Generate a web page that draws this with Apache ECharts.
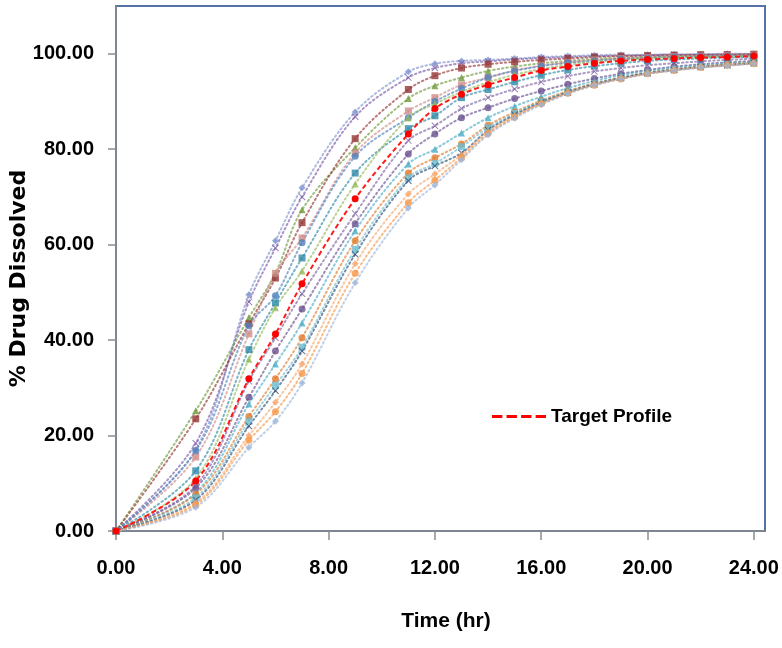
<!DOCTYPE html>
<html>
<head>
<meta charset="utf-8">
<script src="https://cdn.jsdelivr.net/npm/echarts@6/dist/echarts.min.js"></script>
<style>html,body{margin:0;padding:0;background:#fff;}#chart{width:782px;height:648px;}</style>
</head>
<body>
<div id="chart"></div>
<script>
// ---- data ----
const times = [0, 3, 5, 6, 7, 9, 11, 12, 13, 14, 15, 16, 17, 18, 19, 20, 21, 22, 23, 24];
const xTicks = [0, 4, 8, 12, 16, 20, 24];
const yTicks = [0, 20, 40, 60, 80, 100];
const targetName = 'Target Profile';
const target = [0, 10.5, 31.9, 41.3, 51.8, 69.6, 83.2, 88.5, 91.5, 93.5, 95.0, 96.5, 97.3, 98.0, 98.5, 98.8, 99.0, 99.2, 99.3, 99.5];
const f01 = [0, 17.0, 49.5, 60.8, 71.9, 87.8, 96.2, 97.9, 98.5, 98.7, 99.0, 99.3, 99.5, 99.7, 99.8, 99.8, 99.9, 99.9, 100.0, 100.0];
const f02 = [0, 18.4, 48.0, 59.3, 70.0, 86.8, 95.0, 97.0, 98.0, 98.4, 98.8, 99.1, 99.3, 99.5, 99.6, 99.7, 99.8, 99.8, 99.9, 99.9];
const f03 = [0, 25.2, 44.7, 54.0, 67.3, 80.3, 90.6, 93.3, 95.0, 96.4, 97.3, 98.0, 98.5, 98.9, 99.1, 99.3, 99.4, 99.5, 99.6, 99.7];
const f04 = [0, 23.5, 43.4, 53.0, 64.6, 82.2, 92.5, 95.4, 97.0, 97.8, 98.3, 98.7, 99.0, 99.3, 99.5, 99.6, 99.7, 99.8, 99.8, 99.9];
const f05 = [0, 15.5, 41.3, 54.0, 61.4, 79.2, 88.0, 90.8, 93.5, 95.0, 96.5, 97.5, 98.2, 98.7, 99.0, 99.2, 99.4, 99.5, 99.6, 99.7];
const f06 = [0, 16.8, 43.0, 49.3, 60.4, 78.5, 86.6, 90.0, 92.7, 95.0, 96.4, 97.4, 98.1, 98.5, 98.9, 99.1, 99.3, 99.4, 99.5, 99.6];
const f07 = [0, 12.6, 38.0, 47.8, 57.2, 75.0, 84.3, 87.0, 90.8, 92.5, 94.1, 95.5, 96.6, 97.4, 98.0, 98.5, 98.8, 99.0, 99.2, 99.3];
const f08 = [0, 11.0, 36.0, 46.8, 54.5, 72.7, 86.6, 89.5, 92.0, 94.0, 95.6, 96.8, 97.7, 98.3, 98.7, 99.0, 99.2, 99.3, 99.4, 99.5];
const f09 = [0, 9.5, 31.4, 40.5, 49.7, 66.5, 81.8, 84.9, 88.5, 90.8, 92.6, 94.1, 95.3, 96.3, 97.0, 97.6, 98.0, 98.4, 98.7, 99.0];
const f10 = [0, 9.0, 28.0, 37.7, 46.5, 64.4, 79.0, 83.2, 86.6, 88.7, 90.6, 92.2, 93.6, 94.8, 95.8, 96.6, 97.3, 97.8, 98.2, 98.5];
const f11 = [0, 8.0, 26.6, 35.0, 43.6, 62.9, 76.9, 80.0, 83.4, 86.6, 89.0, 91.0, 92.8, 94.3, 95.5, 96.4, 97.1, 97.6, 98.0, 98.3];
const f12 = [0, 7.7, 24.0, 31.9, 40.5, 60.8, 75.0, 78.2, 81.1, 85.0, 87.8, 90.2, 92.2, 93.8, 95.0, 96.0, 96.8, 97.3, 97.8, 98.1];
const f13 = [0, 7.0, 23.0, 30.5, 38.5, 59.0, 74.0, 77.0, 80.5, 84.5, 87.5, 90.0, 92.0, 93.7, 95.0, 96.0, 96.7, 97.3, 97.7, 98.1];
const f14 = [0, 6.5, 22.0, 29.4, 37.7, 58.0, 73.4, 76.5, 79.2, 84.0, 87.2, 89.8, 91.9, 93.6, 94.9, 95.9, 96.6, 97.2, 97.6, 98.0];
const f15 = [0, 5.9, 20.0, 27.0, 35.0, 56.0, 70.6, 74.8, 78.8, 83.6, 86.9, 89.6, 91.8, 93.5, 94.8, 95.8, 96.6, 97.2, 97.6, 98.0];
const f16 = [0, 5.5, 19.0, 25.0, 33.0, 54.0, 68.8, 73.5, 78.2, 83.3, 86.7, 89.5, 91.7, 93.4, 94.7, 95.8, 96.5, 97.1, 97.6, 97.9];
const f17 = [0, 5.0, 17.5, 23.0, 31.0, 52.0, 67.7, 72.5, 77.8, 83.0, 86.5, 89.3, 91.6, 93.4, 94.7, 95.8, 96.5, 97.1, 97.5, 97.9];
const formulations = [f01, f02, f03, f04, f05, f06, f07, f08, f09, f10, f11, f12, f13, f14, f15, f16, f17];

// ---- styles ----
const X = 'path://M1,0L5,4L9,0L10,1L6,5L10,9L9,10L5,6L1,10L0,9L4,5L0,1Z';
const styles = [
  ['#7F93CF', 'diamond'], ['#7A5CA8', X], ['#6E9A3A', 'triangle'], ['#943634', 'rect'],
  ['#D08C8A', 'rect'], ['#4F81BD', 'circle'], ['#2F8AA6', 'rect'], ['#93B957', 'triangle'],
  ['#8064A2', X], ['#6A5290', 'circle'], ['#4BACC6', 'triangle'], ['#E07B2A', 'circle'],
  ['#6FBDD1', 'rect'], ['#2C4D75', X], ['#F5A86E', 'diamond'], ['#F79646', 'circle'],
  ['#9DB5DA', 'diamond']
];
const tickFont = '"Liberation Sans", Arial, sans-serif';

const pairs = arr => times.map((t, i) => [t, arr[i]]);

const series = formulations.map((arr, i) => ({
  name: 'F' + (i + 1),
  type: 'line',
  data: pairs(arr),
  smooth: 0.35,
  symbol: styles[i][1],
  symbolSize: 7,
  lineStyle: { color: styles[i][0], width: 2, type: [1.5, 3], cap: 'round', opacity: 0.65 },
  itemStyle: { color: styles[i][0], opacity: 0.8 },
  emphasis: { disabled: true },
  z: 2
}));
series.push({
  name: targetName,
  type: 'line',
  data: pairs(target),
  smooth: 0.35,
  symbol: 'circle',
  symbolSize: 7,
  lineStyle: { color: '#FF1A1A', width: 2, type: [5, 3] },
  itemStyle: { color: '#FF0000' },
  emphasis: { disabled: true },
  z: 5
});

const chart = echarts.init(document.getElementById('chart'), null, { renderer: 'canvas' });
chart.setOption({
  animation: false,
  backgroundColor: '#fff',
  grid: { left: 116, right: 17, top: 6, bottom: 117, outerBoundsMode: 'none', containLabel: false, show: true, borderColor: '#5573A6', borderWidth: 2, backgroundColor: 'transparent' },
  legend: {
    data: [{ name: targetName, icon: 'path://M0,0h10v3h-10z M14,0h10v3h-10z M28,0h10v3h-10z M42,0h10v3h-10z' }],
    left: 487, top: 402, itemWidth: 54, itemHeight: 4,
    textStyle: { fontFamily: tickFont, fontWeight: 'bold', fontSize: 19, color: '#000' }
  },
  xAxis: {
    type: 'value', min: 0, max: 24.42,
    name: 'Time (hr)', nameLocation: 'middle', nameGap: 80, nameMoveOverlap: false,
    nameTextStyle: { fontFamily: tickFont, fontWeight: 'bold', fontSize: 21, color: '#000', padding: [0, 0, 0, 11] },
    axisLine: { show: true, lineStyle: { color: '#8C8C8C', width: 1.5 } },
    axisTick: { show: true, length: 9, inside: false, customValues: xTicks, lineStyle: { color: '#8C8C8C', width: 1.5 } },
    axisLabel: { customValues: xTicks, margin: 27, formatter: v => v.toFixed(2), fontFamily: tickFont, fontWeight: 'bold', fontSize: 20, color: '#000' },
    splitLine: { show: false }
  },
  yAxis: {
    type: 'value', min: 0, max: 110,
    name: '% Drug Dissolved', nameLocation: 'middle', nameGap: 86, nameMoveOverlap: false,
    nameTextStyle: { fontFamily: 'DejaVu Sans', fontWeight: 'bold', fontSize: 22, color: '#000', padding: [0, 20, 0, 0] },
    axisLine: { show: true, lineStyle: { color: '#8C8C8C', width: 1.5 } },
    axisTick: { show: true, length: 8, inside: false, customValues: yTicks, lineStyle: { color: '#8C8C8C', width: 1.5 } },
    axisLabel: { customValues: yTicks, margin: 22, formatter: v => v.toFixed(2), fontFamily: tickFont, fontWeight: 'bold', fontSize: 20, color: '#000' },
    splitLine: { show: false }
  },
  series: series
});
</script>
</body>
</html>
